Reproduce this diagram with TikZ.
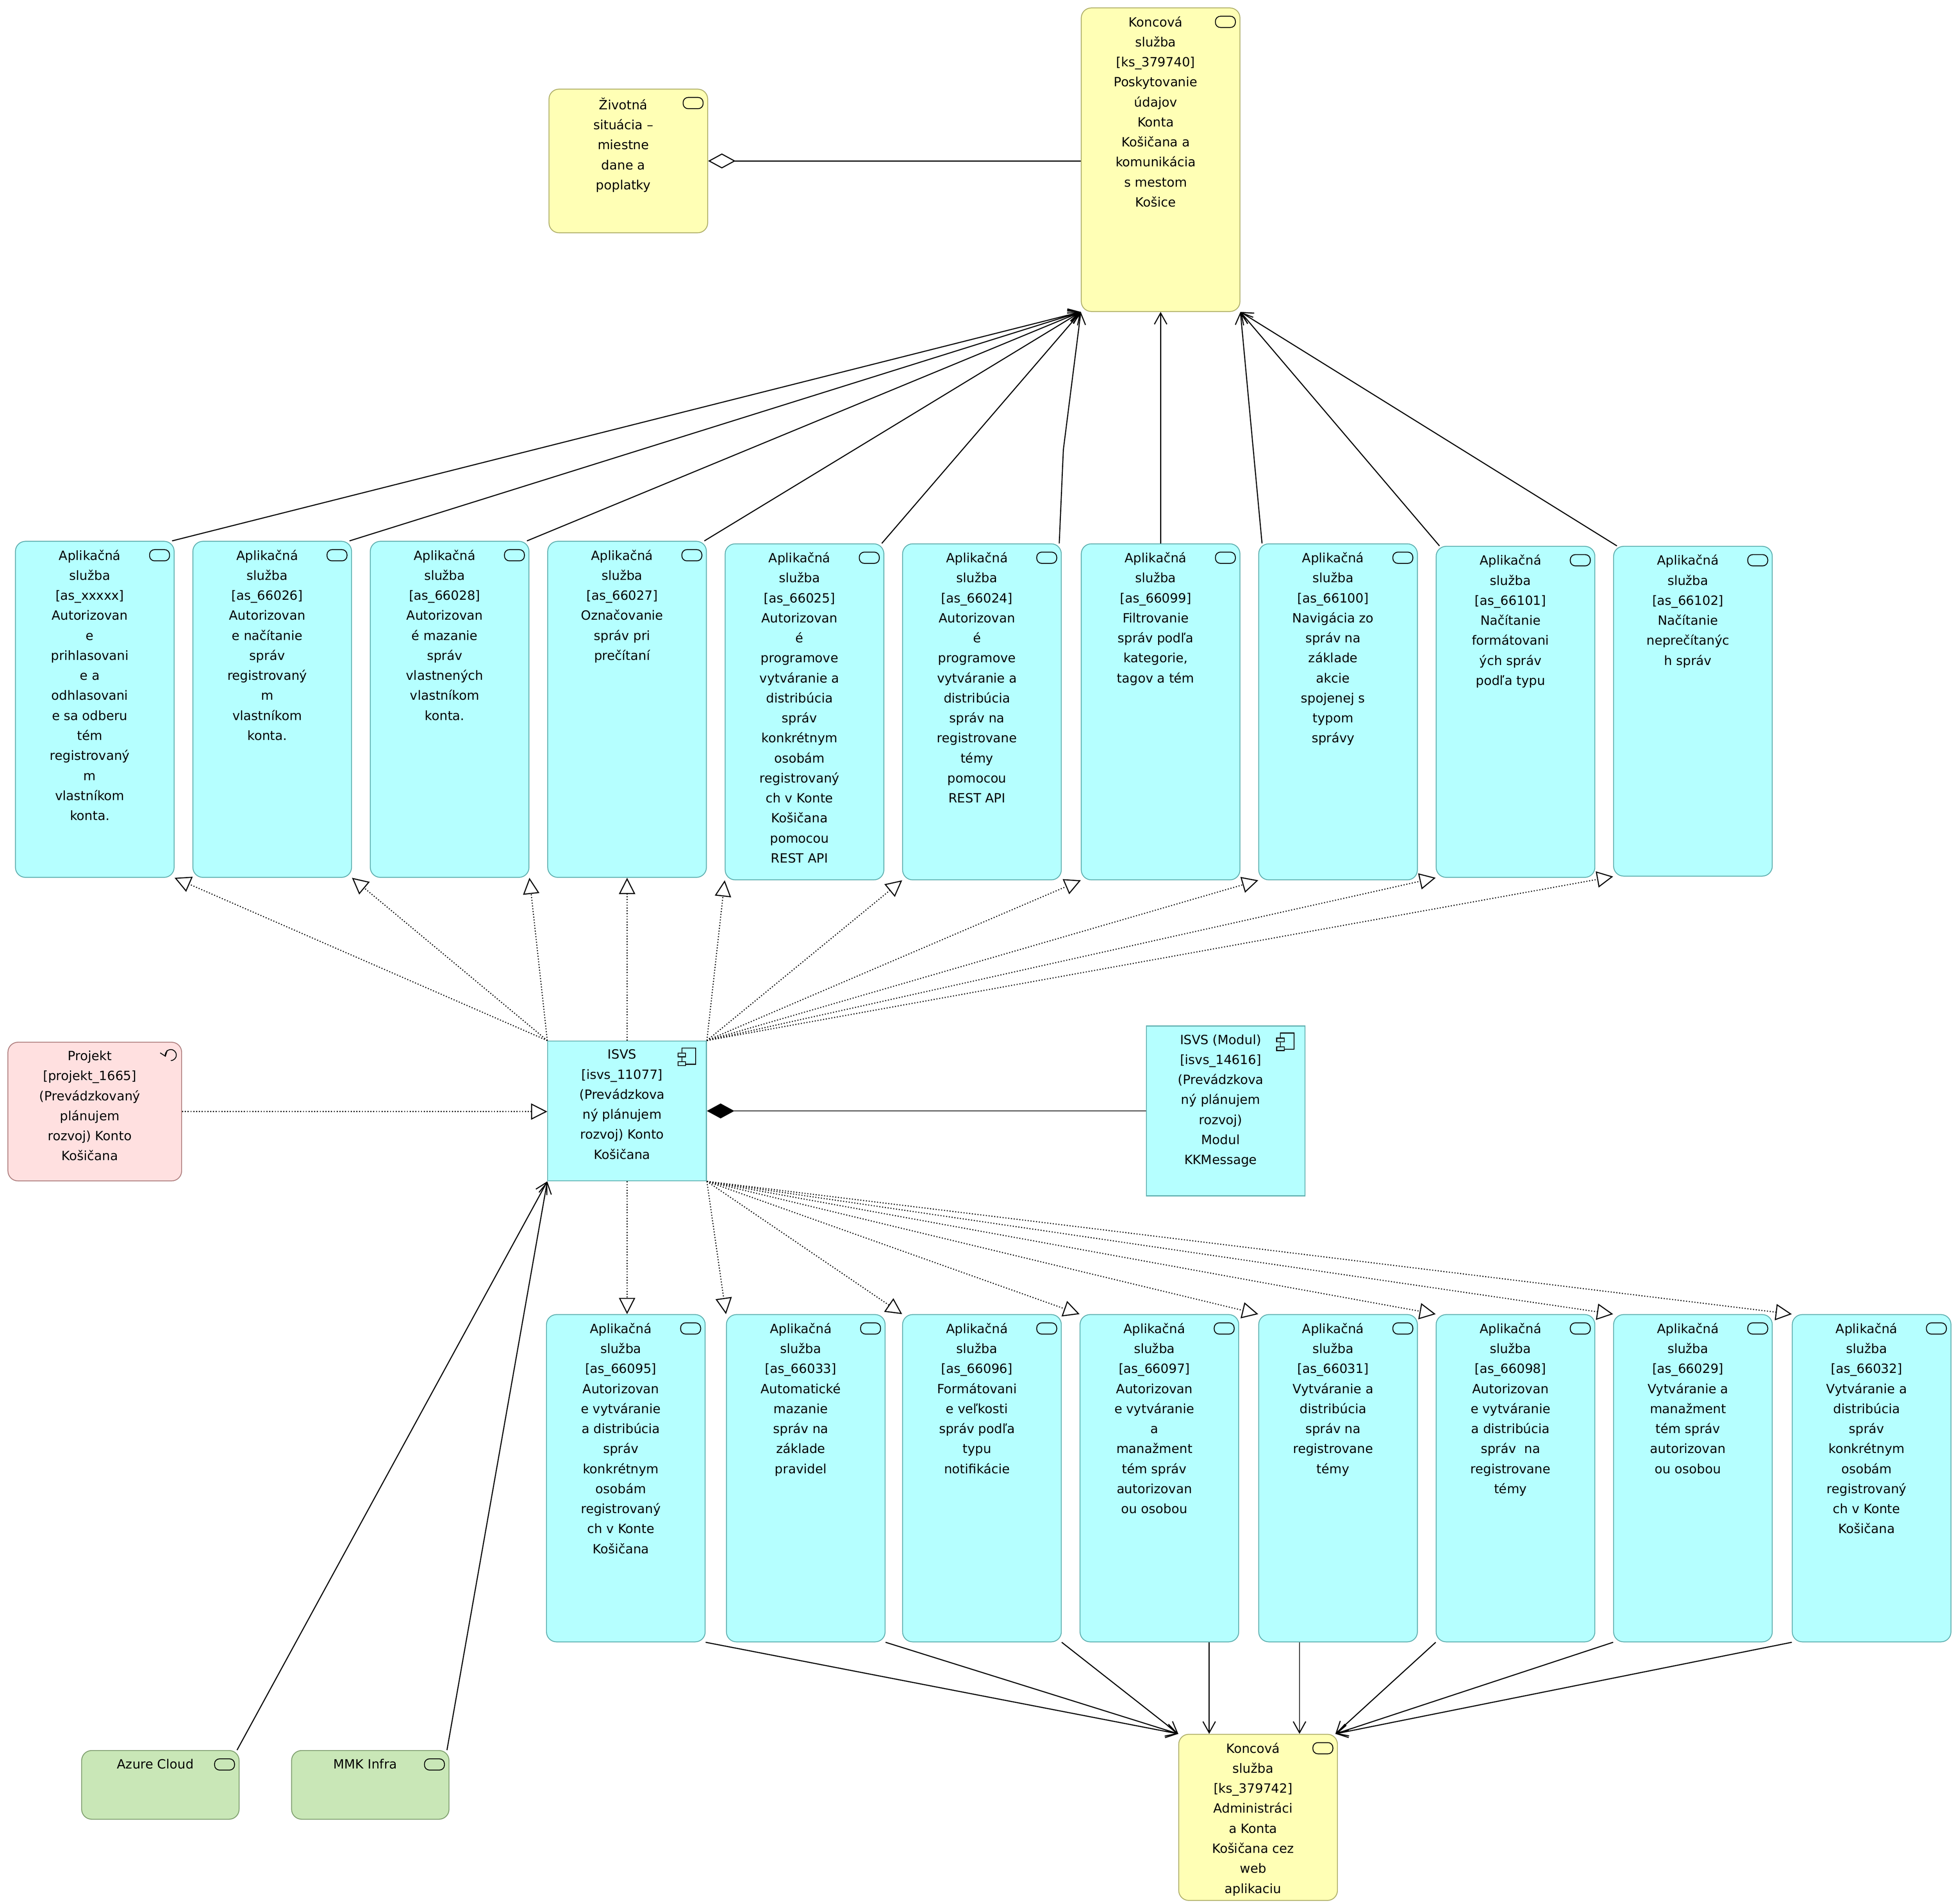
\documentclass[tikz,border=0pt]{standalone}
\usepackage{fontspec}
\setmainfont{DejaVu Sans}
\usetikzlibrary{arrows.meta}
\definecolor{appfill}{HTML}{B5FFFF}
\definecolor{appline}{HTML}{5FB0B0}
\definecolor{bizfill}{HTML}{FFFFB5}
\definecolor{bizline}{HTML}{B0B06A}
\definecolor{prjfill}{HTML}{FFE0E0}
\definecolor{prjline}{HTML}{B08080}
\definecolor{tecfill}{HTML}{C9E7B7}
\definecolor{tecline}{HTML}{80A070}
\tikzset{
  app/.style={draw=appline,fill=appfill,rounded corners=0.4cm,line width=1pt},
  appsq/.style={draw=appline,fill=appfill,line width=1pt},
  biz/.style={draw=bizline,fill=bizfill,rounded corners=0.4cm,line width=1pt},
  prj/.style={draw=prjline,fill=prjfill,rounded corners=0.4cm,line width=1pt},
  tec/.style={draw=tecline,fill=tecfill,rounded corners=0.4cm,line width=1pt},
  txt/.style={align=center,font=\fontsize{14.5}{22.8}\selectfont,inner sep=0pt},
  serve/.style={line width=1.2pt,-{Straight Barb[length=0.45cm,width=0.5cm]}},
  realize/.style={line width=1.2pt,dotted,-{Triangle[open,fill=white,length=0.65cm,width=0.65cm]}},
  aggr/.style={line width=1.2pt,-{Diamond[open,fill=white,length=1.1cm,width=0.6cm]}},
  compo/.style={line width=1.2pt,-{Diamond[length=1.1cm,width=0.6cm]}}
}
% element: name, style, x, y, w, h, text
\newcommand{\elem}[7]{%
  \node[#2,anchor=north west,minimum width=#5*0.05cm,minimum height=#6*0.05cm] (#1) at (#3,#4) {};
  \node[txt,anchor=north] (#1-t) at ([xshift=-0.2cm,yshift=-0.35cm]#1.north) {#7};}
\newcommand{\svcicon}[1]{%
  \draw[line width=1pt,rounded corners=0.2cm] ([xshift=-1cm,yshift=-0.35cm]#1.north east) rectangle ++(16,9);}
\begin{document}
\begin{tikzpicture}[x=0.05cm,y=-0.05cm]
\useasboundingbox (0,0) rectangle (1563,1524);
% business layer
\elem{ks1}{biz}{865}{6}{127}{243}{Koncová\\služba\\{[ks\_379740]}\\Poskytovanie\\údajov\\Konta\\Košičana a\\komunikácia\\s mestom\\Košice}
\svcicon{ks1}
\elem{ziv}{biz}{439}{71}{127}{115}{Životná\\situácia –\\miestne\\dane a\\poplatky}
\svcicon{ziv}
\elem{ks2}{biz}{943}{1388}{127}{133}{Koncová\\služba\\{[ks\_379742]}\\Administráci\\a Konta\\Košičana cez\\web\\aplikaciu}
\svcicon{ks2}
% application services, upper row
\elem{r1-1}{app}{12}{433}{127}{269}{Aplikačná\\služba\\{[as\_xxxxx]}\\Autorizovan\\e\\prihlasovani\\e a\\odhlasovani\\e sa odberu\\tém\\registrovaný\\m\\vlastníkom\\konta.}
\elem{r1-2}{app}{154}{433}{127}{269}{Aplikačná\\služba\\{[as\_66026]}\\Autorizovan\\e načítanie\\správ\\registrovaný\\m\\vlastníkom\\konta.}
\elem{r1-3}{app}{296}{433}{127}{269}{Aplikačná\\služba\\{[as\_66028]}\\Autorizovan\\é mazanie\\správ\\vlastnených\\vlastníkom\\konta.}
\elem{r1-4}{app}{438}{433}{127}{269}{Aplikačná\\služba\\{[as\_66027]}\\Označovanie\\správ pri\\prečítaní}
\elem{r1-5}{app}{580}{435}{127}{269}{Aplikačná\\služba\\{[as\_66025]}\\Autorizovan\\é\\programove\\vytváranie a\\distribúcia\\správ\\konkrétnym\\osobám\\registrovaný\\ch v Konte\\Košičana\\pomocou\\REST API}
\elem{r1-6}{app}{722}{435}{127}{269}{Aplikačná\\služba\\{[as\_66024]}\\Autorizovan\\é\\programove\\vytváranie a\\distribúcia\\správ na\\registrovane\\témy\\pomocou\\REST API}
\elem{r1-7}{app}{865}{435}{127}{269}{Aplikačná\\služba\\{[as\_66099]}\\Filtrovanie\\správ podľa\\kategorie,\\tagov a tém}
\elem{r1-8}{app}{1007}{435}{127}{269}{Aplikačná\\služba\\{[as\_66100]}\\Navigácia zo\\správ na\\základe\\akcie\\spojenej s\\typom\\správy}
\elem{r1-9}{app}{1149}{437}{127}{265}{Aplikačná\\služba\\{[as\_66101]}\\Načítanie\\formátovani\\ých správ\\podľa typu}
\elem{r1-10}{app}{1291}{437}{127}{264}{Aplikačná\\služba\\{[as\_66102]}\\Načítanie\\neprečítanýc\\h správ}
\foreach \i in {1,...,10} {\svcicon{r1-\i}}
% application services, lower row
\elem{r2-1}{app}{437}{1052}{127}{262}{Aplikačná\\služba\\{[as\_66095]}\\Autorizovan\\e vytváranie\\a distribúcia\\správ\\konkrétnym\\osobám\\registrovaný\\ch v Konte\\Košičana}
\elem{r2-2}{app}{581}{1052}{127}{262}{Aplikačná\\služba\\{[as\_66033]}\\Automatické\\mazanie\\správ na\\základe\\pravidel}
\elem{r2-3}{app}{722}{1052}{127}{262}{Aplikačná\\služba\\{[as\_66096]}\\Formátovani\\e veľkosti\\správ podľa\\typu\\notifikácie}
\elem{r2-4}{app}{864}{1052}{127}{262}{Aplikačná\\služba\\{[as\_66097]}\\Autorizovan\\e vytváranie\\a\\manažment\\tém správ\\autorizovan\\ou osobou}
\elem{r2-5}{app}{1007}{1052}{127}{262}{Aplikačná\\služba\\{[as\_66031]}\\Vytváranie a\\distribúcia\\správ na\\registrovane\\témy}
\elem{r2-6}{app}{1149}{1052}{127}{262}{Aplikačná\\služba\\{[as\_66098]}\\Autorizovan\\e vytváranie\\a distribúcia\\správ~ na\\registrovane\\témy}
\elem{r2-7}{app}{1291}{1052}{127}{262}{Aplikačná\\služba\\{[as\_66029]}\\Vytváranie a\\manažment\\tém správ\\autorizovan\\ou osobou}
\elem{r2-8}{app}{1434}{1052}{127}{262}{Aplikačná\\služba\\{[as\_66032]}\\Vytváranie a\\distribúcia\\správ\\konkrétnym\\osobám\\registrovaný\\ch v Konte\\Košičana}
\foreach \i in {1,...,8} {\svcicon{r2-\i}}
% ISVS, module, project, technology
\elem{isvs}{appsq}{438}{833}{127}{112}{ISVS\\{[isvs\_11077]}\\(Prevádzkova\\ný plánujem\\rozvoj) Konto\\Košičana}
\elem{mod}{appsq}{917}{821}{127}{136}{ISVS (Modul)\\{[isvs\_14616]}\\(Prevádzkova\\ný plánujem\\rozvoj)\\Modul\\KKMessage}
\foreach \n in {isvs,mod} {
  \draw[line width=1pt] ([xshift=-1cm,yshift=-0.3cm]\n.north east) rectangle ++(11,13);
  \draw[line width=1pt,fill=appfill] ([xshift=-1.15cm,yshift=-0.5cm]\n.north east) rectangle ++(6,3);
  \draw[line width=1pt,fill=appfill] ([xshift=-1.15cm,yshift=-0.85cm]\n.north east) rectangle ++(6,3);}
\elem{proj}{prj}{6}{834}{139}{111}{Projekt\\{[projekt\_1665]}\\(Prevádzkovaný\\plánujem\\rozvoj) Konto\\Košičana}
\draw[line width=1pt,-{Straight Barb[length=0.2cm,width=0.3cm]}] ([xshift=-0.45cm,yshift=-0.75cm]proj.north east) arc(-90:200:0.22cm);
\elem{az}{tec}{65}{1401}{126}{55}{Azure Cloud}
\elem{mmk}{tec}{233}{1401}{126}{55}{MMK Infra}
\svcicon{az}
\svcicon{mmk}
% relations
\draw[aggr] (ks1.west |- ziv.east) -- (ziv.east);
\foreach \i in {1,...,5} {\draw[serve] ([xshift=-0.1cm]r1-\i.north east) -- (ks1.south west);}
\coordinate (bend6) at (851,360);
\draw[serve] ([xshift=-0.1cm]r1-6.north east) -- (bend6) -- (ks1.south west);
\draw[serve] (r1-7.north) -- (r1-7.north |- ks1.south);
\foreach \i in {8,9,10} {\draw[serve] ([xshift=0.15cm]r1-\i.north west) -- (ks1.south east);}
\foreach \i in {1,2,3} {\draw[realize] (isvs.north west) -- (r1-\i.south east);}
\draw[realize] (isvs.north) -- (isvs.north |- r1-4.south);
\foreach \i in {5,...,10} {\draw[realize] (isvs.north east) -- (r1-\i.south west);}
\draw[realize] (isvs.south) -- (isvs.south |- r2-1.north);
\foreach \i in {2,...,8} {\draw[realize] (isvs.south east) -- (r2-\i.north west);}
\draw[realize] (proj.east) -- (proj.east -| isvs.west);
\draw[compo] (mod.west |- isvs.east) -- (isvs.east);
\foreach \i in {1,2,3} {\draw[serve] (r2-\i.south east) -- (ks2.north west);}
\draw[serve] ([xshift=-1.2cm]r2-4.south east) -- ([xshift=-1.2cm]r2-4.south east |- ks2.north);
\draw[serve] ([xshift=1.65cm]r2-5.south west) -- ([xshift=1.65cm]r2-5.south west |- ks2.north);
\foreach \i in {6,7,8} {\draw[serve] (r2-\i.south west) -- ([xshift=-0.1cm]ks2.north east);}
\draw[serve] ([xshift=-0.1cm]az.north east) -- (isvs.south west);
\draw[serve] ([xshift=-0.1cm]mmk.north east) -- (isvs.south west);
\end{tikzpicture}
\end{document}
